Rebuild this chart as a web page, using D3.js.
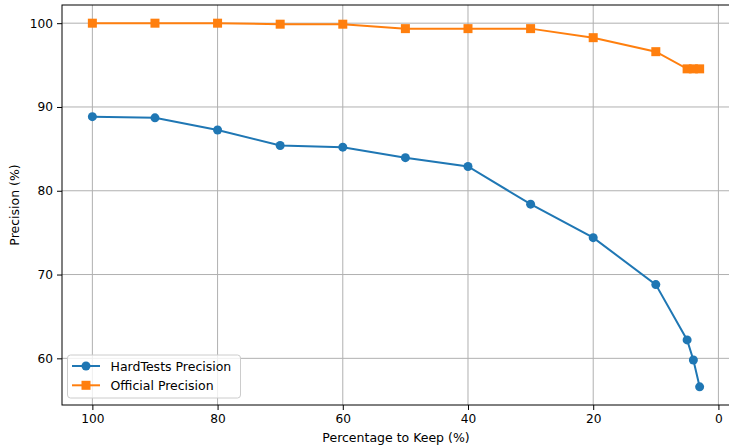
<!DOCTYPE html>
<html>
<head>
<meta charset="utf-8">
<script src="https://cdn.jsdelivr.net/npm/d3@7"></script>
<style>
    body { margin: 0; background: #fff; }
    text { font-family: "DejaVu Sans", sans-serif; }
</style>
</head>
<body>
<svg id="chart"></svg>
<script>
// percentage kept (x) and precision for both series
const keepPct = [100, 90, 80, 70, 60, 50, 40, 30, 20, 10, 5, 4, 3];
const hardTests = [88.84, 88.7, 87.25, 85.4, 85.2, 83.95, 82.9, 78.4, 74.4, 68.8, 62.2, 59.8, 56.6];
const official = [100, 100, 100, 99.88, 99.88, 99.35, 99.35, 99.35, 98.27, 96.6, 94.55, 94.55, 94.55];
const xTicks = [100, 80, 60, 40, 20, 0];
const yTicks = [60, 70, 80, 90, 100];
const seriesNames = ["HardTests Precision", "Official Precision"];

const width = 729, height = 446;
const margin = { top: 5, right: -1, bottom: 41, left: 62 };
const fontSize = "12.5px";

const svg = d3.select("#chart")
    .attr("width", width)
    .attr("height", height);

const innerW = width - margin.left - margin.right;
const innerH = height - margin.top - margin.bottom;

const g = svg.append("g")
    .attr("transform", "translate(" + margin.left + "," + margin.top + ")");

// matplotlib style 5% padding, x reversed
const xScale = d3.scaleLinear()
    .domain([104.85, -1.85])
    .range([0, innerW]);
const yScale = d3.scaleLinear()
    .domain([54.43, 102.17])
    .range([innerH, 0]);

// grid
g.append("g")
    .selectAll("line")
    .data(xTicks)
    .join("line")
    .attr("x1", d => xScale(d)).attr("x2", d => xScale(d))
    .attr("y1", 0).attr("y2", innerH)
    .attr("stroke", "#b0b0b0")
    .attr("stroke-width", 1);
g.append("g")
    .selectAll("line")
    .data(yTicks)
    .join("line")
    .attr("x1", 0).attr("x2", innerW)
    .attr("y1", d => yScale(d)).attr("y2", d => yScale(d))
    .attr("stroke", "#b0b0b0")
    .attr("stroke-width", 1);

// axes
const xAxis = g.append("g")
    .attr("transform", "translate(0," + innerH + ")")
    .call(d3.axisBottom(xScale).tickValues(xTicks).tickSize(5).tickPadding(4).tickSizeOuter(0));
const yAxis = g.append("g")
    .call(d3.axisLeft(yScale).tickValues(yTicks).tickSize(5).tickPadding(4).tickSizeOuter(0));
[xAxis, yAxis].forEach(a => {
    a.select(".domain").remove();
    a.selectAll("text").attr("font-size", "12.2px").attr("fill", "#000")
        .style("font-family", "DejaVu Sans, sans-serif");
    a.selectAll("line").attr("stroke", "#000");
});

// frame
g.append("rect")
    .attr("x", 0).attr("y", 0)
    .attr("width", innerW).attr("height", innerH)
    .attr("fill", "none")
    .attr("stroke", "#000")
    .attr("stroke-width", 1);

const line = d3.line()
    .x((d, i) => xScale(keepPct[i]))
    .y(d => yScale(d));

// HardTests
g.append("path")
    .datum(hardTests)
    .attr("fill", "none")
    .attr("stroke", "#1f77b4")
    .attr("stroke-width", 2)
    .attr("d", line);
g.append("g")
    .selectAll("circle")
    .data(hardTests)
    .join("circle")
    .attr("cx", (d, i) => xScale(keepPct[i]))
    .attr("cy", d => yScale(d))
    .attr("r", 4.5)
    .attr("fill", "#1f77b4");

// Official
g.append("path")
    .datum(official)
    .attr("fill", "none")
    .attr("stroke", "#ff7f0e")
    .attr("stroke-width", 2)
    .attr("d", line);
g.append("g")
    .selectAll("rect")
    .data(official)
    .join("rect")
    .attr("x", (d, i) => xScale(keepPct[i]) - 4.5)
    .attr("y", d => yScale(d) - 4.5)
    .attr("width", 9)
    .attr("height", 9)
    .attr("fill", "#ff7f0e");

// axis labels
svg.append("text")
    .attr("x", margin.left + innerW / 2)
    .attr("y", 442)
    .attr("text-anchor", "middle")
    .attr("font-size", fontSize)
    .text("Percentage to Keep (%)");
svg.append("text")
    .attr("transform", "translate(19," + (margin.top + innerH / 2) + ") rotate(-90)")
    .attr("text-anchor", "middle")
    .attr("font-size", fontSize)
    .text("Precision (%)");

// legend
const legend = g.append("g")
    .attr("transform", "translate(5.5," + (innerH - 50) + ")");
legend.append("rect")
    .attr("width", 173).attr("height", 43)
    .attr("rx", 3)
    .attr("fill", "#fff")
    .attr("fill-opacity", 0.8)
    .attr("stroke", "#cccccc");
const colors = ["#1f77b4", "#ff7f0e"];
seriesNames.forEach((name, i) => {
    const y = 11 + i * 19.3;
    legend.append("line")
        .attr("x1", 4.5).attr("x2", 32.5)
        .attr("y1", y).attr("y2", y)
        .attr("stroke", colors[i]).attr("stroke-width", 2);
    if (i === 0) {
        legend.append("circle").attr("cx", 18.5).attr("cy", y).attr("r", 4.5).attr("fill", colors[i]);
    } else {
        legend.append("rect").attr("x", 14).attr("y", y - 4.5).attr("width", 9).attr("height", 9).attr("fill", colors[i]);
    }
    legend.append("text")
        .attr("x", 43).attr("y", y + 4.5)
        .attr("font-size", fontSize)
        .text(name);
});
</script>
</body>
</html>
